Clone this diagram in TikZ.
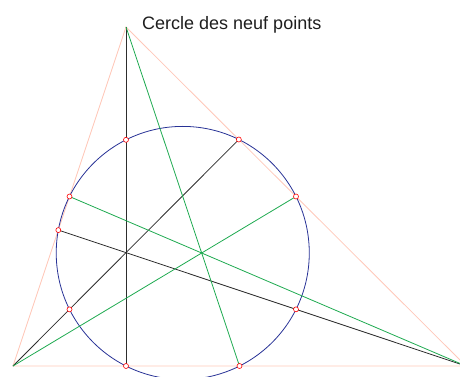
\documentclass[tikz,border=0pt]{standalone}
\usepackage{fontspec}
\setmainfont{Liberation Sans}
\usetikzlibrary{calc}
\definecolor{pinkc}{RGB}{255,200,185}
\definecolor{altc}{RGB}{45,45,45}
\definecolor{medc}{RGB}{30,170,80}
\definecolor{circc}{RGB}{40,50,150}
\definecolor{titlec}{RGB}{30,30,30}
\begin{document}
\begin{tikzpicture}[x=1pt,y=-1pt,
  tri/.style={draw=pinkc, line width=0.8pt},
  alt/.style={draw=altc, line width=0.8pt},
  med/.style={draw=medc, line width=0.8pt},
  npc/.style={draw=circc, line width=0.8pt},
  ninept/.style={circle, draw=red, line width=0.6pt, fill=white, inner sep=0pt, minimum size=5pt}]
\useasboundingbox (0,0) rectangle (460,376);
\clip (0,0) rectangle (460,376);
\coordinate (A) at (126,27);
\coordinate (B) at (13,366);
\coordinate (C) at (466,366);
\coordinate (Ha) at ($(B)!(A)!(C)$);
\coordinate (Hb) at ($(A)!(B)!(C)$);
\coordinate (Hc) at ($(A)!(C)!(B)$);
\coordinate (Ma) at ($(B)!0.5!(C)$);
\coordinate (Mb) at ($(A)!0.5!(C)$);
\coordinate (Mc) at ($(A)!0.5!(B)$);
\coordinate (H) at (intersection of A--Ha and B--Hb);
\coordinate (Pa) at ($(A)!0.5!(H)$);
\coordinate (Pb) at ($(B)!0.5!(H)$);
\coordinate (Pc) at ($(C)!0.5!(H)$);
\coordinate (N) at ($(Ma)!0.5!(Pa)$);
% triangle
\draw[tri] (A) -- (B) -- (C) -- cycle;
% nine-point circle
\draw[npc] let \p1=($(Ma)-(Pa)$), \n1={veclen(\x1,\y1)/2} in (N) circle[radius=\n1];
% altitudes
\draw[alt] (A) -- (Ha);
\draw[alt] (B) -- (Hb);
\draw[alt] (C) -- (Hc);
% medians
\draw[med] (A) -- (Ma);
\draw[med] (B) -- (Mb);
\draw[med] (C) -- (Mc);
% nine points
\foreach \p in {Ha,Hb,Hc,Ma,Mb,Mc,Pa,Pb,Pc}
  \node[ninept] (n\p) at (\p) {};
\node[font=\fontsize{18}{20}\selectfont, anchor=base west, text=titlec, inner sep=0pt] (title) at (142,29) {Cercle des neuf points};
\end{tikzpicture}
\end{document}
